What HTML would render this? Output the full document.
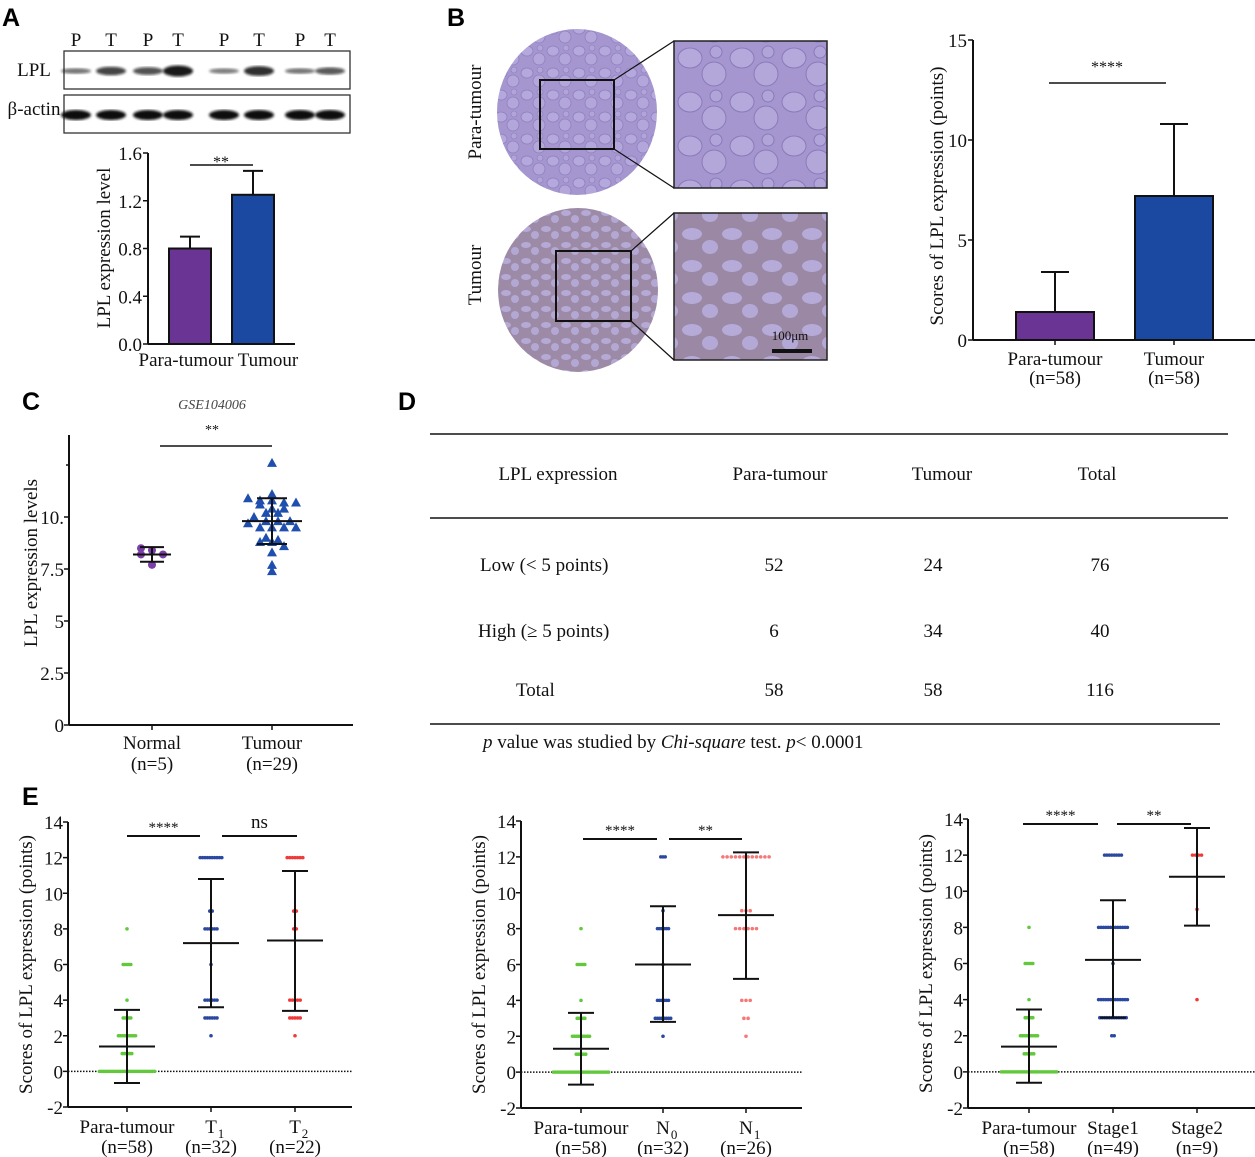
<!DOCTYPE html>
<html><head><meta charset="utf-8"><style>
html,body{margin:0;padding:0;background:#fff;}
svg{display:block;font-family:"Liberation Serif",serif;}
.lab{font-family:"Liberation Sans",sans-serif;font-weight:bold;font-size:25px;}
</style></head><body>
<svg id="fig" width="1255" height="1157" viewBox="0 0 1255 1157" xmlns="http://www.w3.org/2000/svg">
<defs>
<pattern id="paraPat" width="26" height="22" patternUnits="userSpaceOnUse">
<rect width="26" height="22" fill="#a596cf"/>
<ellipse cx="7" cy="7" rx="6" ry="5" fill="#b4a8dc" stroke="#8f7fbf" stroke-width="0.8"/>
<ellipse cx="19" cy="15" rx="6" ry="6" fill="#b2a6da" stroke="#8f7fbf" stroke-width="0.8"/>
<ellipse cx="20" cy="4" rx="3" ry="3" fill="#b0a4d8" stroke="#8f7fbf" stroke-width="0.6"/>
</pattern>
<pattern id="tumPat" width="20" height="16" patternUnits="userSpaceOnUse">
<rect width="20" height="16" fill="#9c8aa6"/>
<ellipse cx="6" cy="5" rx="5" ry="3" fill="#b5a9d6"/>
<ellipse cx="15" cy="11" rx="4" ry="4" fill="#b3a7d4"/>
</pattern>
<pattern id="paraPatL" width="52" height="44" patternUnits="userSpaceOnUse">
<rect width="52" height="44" fill="#a596cf"/>
<ellipse cx="14" cy="14" rx="12" ry="10" fill="#b5a9dc" stroke="#8a7abb" stroke-width="1"/>
<ellipse cx="38" cy="30" rx="12" ry="12" fill="#b3a7da" stroke="#8a7abb" stroke-width="1"/>
<ellipse cx="40" cy="8" rx="6" ry="6" fill="#b0a4d8" stroke="#8a7abb" stroke-width="1"/>
</pattern>
<pattern id="tumPatL" width="40" height="32" patternUnits="userSpaceOnUse">
<rect width="40" height="32" fill="#9a88a4"/>
<ellipse cx="12" cy="10" rx="10" ry="6" fill="#b6aad8"/>
<ellipse cx="30" cy="23" rx="8" ry="7" fill="#b4a8d6"/>
</pattern>
<filter id="blur"><feGaussianBlur stdDeviation="1.2"/></filter>
</defs>
<g id="root"></g>
</svg>
<script>
// ---------- DATA ----------
const aCats = ["Para-tumour", "Tumour"];
const aMeans = [0.8, 1.25];
const aErr = [0.9, 1.45];
const aTicks = [0.0, 0.4, 0.8, 1.2, 1.6];
const blotLanes = ["P","T","P","T","P","T","P","T"];
const lplBand = [0.35, 0.7, 0.6, 1.0, 0.3, 0.85, 0.35, 0.55];
const bCats = ["Para-tumour", "Tumour"];
const bNs = ["(n=58)", "(n=58)"];
const bMeans = [1.4, 7.2];
const bErr = [3.4, 10.8];
const bTicks = [0, 5, 10, 15];
const cCats = ["Normal", "Tumour"];
const cNs = ["(n=5)", "(n=29)"];
const cNormal = [8.5, 8.4, 8.2, 8.2, 7.7];
const cTumour = [12.6, 11.1, 10.9, 10.8, 10.8, 10.7, 10.7, 10.6, 10.4, 10.4, 10.2, 10.2, 10.0, 9.8, 9.8, 9.8, 9.7, 9.5, 9.5, 9.5, 9.5, 9.0, 8.9, 8.8, 8.8, 8.6, 8.3, 7.7, 7.4];
const cStats = [[8.2, 8.55, 7.85], [9.8, 10.9, 8.7]];
const cTicks = [0, 2.5, 5, 7.5, 10];
const cTickLabels = ["0", "2.5", "5", "7.5", "10."];
const eTicks = [-2, 0, 2, 4, 6, 8, 10, 12, 14];
const paraScores = [0, 1, 2, 3, 4, 6, 8];
const paraCounts = [30, 6, 10, 5, 1, 5, 1];
const t1Scores = [2, 3, 4, 6, 8, 9, 12];
const t1Counts = [1, 6, 6, 1, 6, 2, 10];
const t2Scores = [2, 3, 4, 8, 9, 12];
const t2Counts = [1, 5, 5, 2, 2, 7];
const n0Scores = [2, 3, 4, 6, 8, 9, 12];
const n0Counts = [1, 8, 6, 1, 6, 1, 3];
const n1Scores = [2, 3, 4, 8, 9, 12];
const n1Counts = [1, 2, 3, 6, 3, 12];
const s1Scores = [2, 3, 4, 6, 8, 12];
const s1Counts = [2, 12, 13, 1, 13, 8];
const s2Scores = [4, 9, 12];
const s2Counts = [1, 1, 4];
const e1Stats = [[1.4, 3.45, -0.65], [7.2, 10.8, 3.6], [7.35, 11.25, 3.4]];
const e2Stats = [[1.3, 3.3, -0.7], [6.0, 9.25, 2.8], [8.75, 12.25, 5.2]];
const e3Stats = [[1.4, 3.45, -0.6], [6.2, 9.5, 3.0], [10.8, 13.5, 8.1]];

// ---------- HELPERS ----------
const NS = "http://www.w3.org/2000/svg";
const root = document.getElementById("root");
function mk(tag, attrs, parent) {
  const el = document.createElementNS(NS, tag);
  for (const k in attrs) el.setAttribute(k, attrs[k]);
  (parent || root).appendChild(el);
  return el;
}
function txt(s, x, y, size, anchor, parent, extra) {
  const t = mk("text", Object.assign({x: x, y: y, "font-size": size, "text-anchor": anchor || "middle", fill: "#111"}, extra || {}), parent);
  t.textContent = s;
  return t;
}
function line(x1, y1, x2, y2, w, parent, dash) {
  const a = {x1: x1, y1: y1, x2: x2, y2: y2, stroke: "#111", "stroke-width": w || 2};
  if (dash) a["stroke-dasharray"] = dash;
  return mk("line", a, parent);
}

[["A",2,26],["B",447,26],["C",22,410],["D",398,410],["E",22,805]].forEach(p => {
  const t = mk("text", {x: p[1], y: p[2], class: "lab", fill: "#000"});
  t.textContent = p[0];
  
  
});

// ---------- PANEL A ----------
const gA = mk("g", {});


const laneX = [76, 111, 148, 178, 224, 259, 300, 330];
blotLanes.forEach((l, i) => {
  const t = txt(l, laneX[i], 46, 19, "middle", gA);
  
  
});
const blot1 = mk("rect", {x: 64, y: 51, width: 286, height: 38, fill: "#fff", stroke: "#333", "stroke-width": 1.3}, gA);


const blot2 = mk("rect", {x: 64, y: 95, width: 286, height: 38, fill: "#fff", stroke: "#333", "stroke-width": 1.3}, gA);


txt("LPL", 34, 76, 19, "middle", gA);
txt("β-actin", 34, 115, 19, "middle", gA);
lplBand.forEach((v, i) => {
  const b = mk("ellipse", {cx: laneX[i], cy: 71, rx: 15, ry: 1.5 + v * 4, fill: "#111", opacity: 0.35 + v * 0.6, filter: "url(#blur)"}, gA);
  
  
  const c = mk("ellipse", {cx: laneX[i], cy: 115, rx: 15, ry: 5, fill: "#111", filter: "url(#blur)"}, gA);
  
  
});
(function() {
  const x0 = 148, y0 = 344, yT = 153, xR = 295;
  const ys = v => y0 - v / 1.6 * (y0 - yT);
  line(x0, yT, x0, y0, 2, gA);
  line(x0, y0, xR, y0, 2, gA);
  aTicks.forEach(t => {
    line(x0 - 5, ys(t), x0, ys(t), 1.5, gA);
    const tl = txt(t.toFixed(1), x0 - 6, ys(t) + 7, 19, "end", gA);
    
    
  });
  const cx = [190, 253], colors = ["#6a3494", "#1b48a0"];
  aMeans.forEach((m, i) => {
    const r = mk("rect", {x: cx[i] - 21, y: ys(m), width: 42, height: y0 - ys(m), fill: colors[i], stroke: "#111", "stroke-width": 2}, gA);
    
    
    line(cx[i], ys(m), cx[i], ys(aErr[i]), 2, gA);
    line(cx[i] - 10, ys(aErr[i]), cx[i] + 10, ys(aErr[i]), 2, gA);
  });
  txt("Para-tumour", 186, 366, 19, "middle", gA);
  txt("Tumour", 268, 366, 19, "middle", gA);
  line(190, 165, 253, 165, 1.5, gA);
  txt("**", 221, 167, 16, "middle", gA);
  const yl = txt("LPL expression level", 0, 0, 19, "middle", gA, {transform: "translate(110,248) rotate(-90)"});
  
  
})();

// ---------- PANEL B ----------
const gB = mk("g", {});


const circ1 = mk("ellipse", {cx: 577, cy: 112, rx: 80, ry: 83, fill: "url(#paraPat)"}, gB);


const circ2 = mk("ellipse", {cx: 578, cy: 290, rx: 80, ry: 82, fill: "url(#tumPat)"}, gB);


const in1 = mk("rect", {x: 674, y: 41, width: 153, height: 147, fill: "url(#paraPatL)", stroke: "#222", "stroke-width": 1.5}, gB);


const in2 = mk("rect", {x: 674, y: 213, width: 153, height: 147, fill: "url(#tumPatL)", stroke: "#222", "stroke-width": 1.5}, gB);


mk("rect", {x: 540, y: 80, width: 74, height: 69, fill: "none", stroke: "#111", "stroke-width": 2}, gB);
mk("rect", {x: 556, y: 251, width: 75, height: 70, fill: "none", stroke: "#111", "stroke-width": 2}, gB);
line(614, 80, 674, 41, 1.2, gB); line(614, 149, 674, 188, 1.2, gB);
line(631, 251, 674, 213, 1.2, gB); line(631, 321, 674, 360, 1.2, gB);
txt("100μm", 790, 340, 13, "middle", gB);
line(772, 351, 812, 351, 4, gB);
txt("Para-tumour", 0, 0, 19, "middle", gB, {transform: "translate(481,112) rotate(-90)"});
txt("Tumour", 0, 0, 19, "middle", gB, {transform: "translate(481,275) rotate(-90)"});
(function() {
  const x0 = 973, y0 = 340, yT = 40, xR = 1255;
  const ys = v => y0 - v / 15 * (y0 - yT);
  line(x0, yT, x0, y0, 2, gB);
  line(x0, y0, xR, y0, 2, gB);
  bTicks.forEach(t => {
    line(x0 - 5, ys(t), x0, ys(t), 1.5, gB);
    const tl = txt(String(t), x0 - 6, ys(t) + 7, 19, "end", gB);
    
    
  });
  const cx = [1055, 1174], colors = ["#6a3494", "#1b48a0"];
  bMeans.forEach((m, i) => {
    const r = mk("rect", {x: cx[i] - 39, y: ys(m), width: 78, height: y0 - ys(m), fill: colors[i], stroke: "#111", "stroke-width": 2}, gB);
    
    
    line(cx[i], ys(m), cx[i], ys(bErr[i]), 2, gB);
    line(cx[i] - 14, ys(bErr[i]), cx[i] + 14, ys(bErr[i]), 2, gB);
    line(cx[i], y0, cx[i], y0 + 5, 1.5, gB);
    txt(bCats[i], cx[i], 365, 19, "middle", gB);
    txt(bNs[i], cx[i], 384, 19, "middle", gB);
  });
  line(1049, 83, 1166, 83, 1.5, gB);
  txt("****", 1107, 72, 16, "middle", gB);
  const yl = txt("Scores of  LPL expression (points)", 0, 0, 19, "middle", gB, {transform: "translate(943,196) rotate(-90)"});
  
  
})();

// ---------- PANEL C ----------
const gC = mk("g", {});


(function() {
  const x0 = 69, y0 = 725, xR = 353, ppu = 20.8;
  const ys = v => y0 - v * ppu;
  line(x0, 435, x0, y0, 2, gC);
  line(x0, y0, xR, y0, 2, gC);
  cTicks.forEach((t, i) => {
    line(x0 - 5, ys(t), x0, ys(t), 1.5, gC);
    const tl = txt(cTickLabels[i], x0 - 5, ys(t) + 7, 19, "end", gC);
    
    
  });
  line(x0 - 3, ys(12.5), x0, ys(12.5), 1.5, gC);
  const cx = [152, 272];
  cx.forEach((x, i) => {
    line(x, y0, x, y0 + 5, 1.5, gC);
    txt(cCats[i], x, 749, 19, "middle", gC);
    txt(cNs[i], x, 770, 19, "middle", gC);
  });
  const nOff = [-11, 0, -11, 11, 0];
  cNormal.forEach((v, i) => {
    const d = mk("circle", {cx: cx[0] + nOff[i], cy: ys(v), r: 4, fill: "#7b3fa8"}, gC);
    
    
  });
  const bins = {};
  cTumour.forEach(v => {
    const b = Math.round(v / 0.3);
    bins[b] = (bins[b] || 0) + 1;
  });
  const seen = {};
  cTumour.forEach(v => {
    const b = Math.round(v / 0.3);
    const n = bins[b]; const k = seen[b] || 0; seen[b] = k + 1;
    const x = cx[1] + (k - (n - 1) / 2) * 12;
    const y = ys(v);
    const tr = mk("polygon", {points: `${x},${y - 5} ${x - 5},${y + 4} ${x + 5},${y + 4}`, fill: "#1f4fae"}, gC);
    
    
  });
  const half = [[19, 12], [30, 15]];
  cStats.forEach((s, i) => {
    line(cx[i] - half[i][0], ys(s[0]), cx[i] + half[i][0], ys(s[0]), 2, gC);
    line(cx[i], ys(s[1]), cx[i], ys(s[2]), 2, gC);
    line(cx[i] - half[i][1], ys(s[1]), cx[i] + half[i][1], ys(s[1]), 2, gC);
    line(cx[i] - half[i][1], ys(s[2]), cx[i] + half[i][1], ys(s[2]), 2, gC);
  });
  line(160, 446, 272, 446, 1.5, gC);
  txt("**", 212, 434, 14, "middle", gC);
  const title = txt("GSE104006", 212, 409, 14, "middle", gC, {"font-style": "italic", fill: "#444"});
  
  
  const yl = txt("LPL expression levels", 0, 0, 19, "middle", gC, {transform: "translate(37,563) rotate(-90)"});
  
  
})();

// ---------- PANEL D ----------
const gD = mk("g", {});


line(430, 434, 1228, 434, 1.5, gD);
line(430, 518, 1228, 518, 1.5, gD);
line(430, 724, 1220, 724, 1.5, gD);
[["LPL expression", 558], ["Para-tumour", 780], ["Tumour", 942], ["Total", 1097]].forEach(h => {
  const t = txt(h[0], h[1], 480, 19, "middle", gD);
  
  
});
const dRows = [["Low (< 5 points)", 480, 571, ["52", "24", "76"]], ["High (≥ 5 points)", 478, 637, ["6", "34", "40"]], ["Total", 516, 696, ["58", "58", "116"]]];
const dColX = [774, 933, 1100];
dRows.forEach(r => {
  const t = txt(r[0], r[1], r[2], 19, "start", gD);
  
  
  r[3].forEach((v, j) => {
    const c = txt(v, dColX[j], r[2], 19, "middle", gD);
    
    
  });
});
(function() {
  const t = mk("text", {x: 483, y: 748, "font-size": 19, fill: "#111"}, gD);
  t.innerHTML = '<tspan font-style="italic">p</tspan> value was studied by <tspan font-style="italic">Chi-square</tspan> test. <tspan font-style="italic">p</tspan>&lt; 0.0001';
  
  
})();

// ---------- PANEL E ----------
function dotPlot(cfg) {
  const g = mk("g", {});
  
  
  const ys = v => cfg.y0 - (v + 2) * (cfg.y0 - cfg.y14) / 16;
  line(cfg.x0, cfg.y14, cfg.x0, cfg.y0, 2, g);
  line(cfg.x0, cfg.y0, cfg.xR, cfg.y0, 2, g);
  line(cfg.x0, ys(0), cfg.xR, ys(0), 1.5, g, "1.5,1.5");
  eTicks.forEach(t => {
    line(cfg.x0 - 5, ys(t), cfg.x0, ys(t), 1.5, g);
    const tl = txt(String(t), cfg.x0 - 5, ys(t) + 7, 19, "end", g);
    
    
  });
  cfg.groups.forEach((gr, i) => {
    const cx = cfg.cx[i];
    line(cx, cfg.y0, cx, cfg.y0 + 5, 1.5, g);
    gr.scores.forEach((s, j) => {
      const n = gr.counts[j];
      for (let k = 0; k < n; k++) {
        const x = cx + (k - (n - 1) / 2) * gr.sp;
        const d = mk("circle", {cx: x, cy: ys(s), r: 1.8, fill: gr.color}, g);
        
        
      }
    });
    const st = cfg.stats[i];
    line(cx - 28, ys(st[0]), cx + 28, ys(st[0]), 2, g);
    line(cx, ys(st[1]), cx, ys(st[2]), 2, g);
    line(cx - 13, ys(st[1]), cx + 13, ys(st[1]), 2, g);
    line(cx - 13, ys(st[2]), cx + 13, ys(st[2]), 2, g);
    const l1 = txt(cfg.labels[i], cx, cfg.y0 + 26, 19, "middle", g);
    
    
    if (cfg.subs && cfg.subs[i]) {
      const bb = l1.getComputedTextLength ? l1.getComputedTextLength() : 10;
      mk("text", {x: cx + bb / 2 + 1, y: cfg.y0 + 31, "font-size": 13, fill: "#111"}, g).textContent = cfg.subs[i];
    }
    txt(cfg.ns[i], cx, cfg.y0 + 46, 19, "middle", g);
  });
  cfg.sig.forEach(s => {
    line(s[0], s[2], s[1], s[2], 2, g);
    txt(s[3], (s[0] + s[1]) / 2, s[2] - (s[3] === "ns" ? 8 : 4), s[3] === "ns" ? 19 : 15, "middle", g);
  });
  const yl = txt("Scores of LPL expression (points)", 0, 0, 19, "middle", g, {transform: `translate(${cfg.x0 - 36},${(cfg.y14 + cfg.y0) / 2}) rotate(-90)`});
  
  
}
const G = "#62c83c", B = "#2a48a0", R = "#f03a3a";
dotPlot({name: "panel-e-t-stage", x0: 68, xR: 352, y14: 822, y0: 1107, cx: [127, 211, 295],
  groups: [{scores: paraScores, counts: paraCounts, color: G, sp: 1.9}, {scores: t1Scores, counts: t1Counts, color: B, sp: 2.4}, {scores: t2Scores, counts: t2Counts, color: R, sp: 2.6}],
  stats: e1Stats, labels: ["Para-tumour", "T", "T"], subs: [null, "1", "2"], ns: ["(n=58)", "(n=32)", "(n=22)"],
  sig: [[127, 200, 836, "****"], [222, 297, 836, "ns"]]});
dotPlot({name: "panel-e-n-stage", x0: 521, xR: 802, y14: 821, y0: 1108, cx: [581, 663, 746],
  groups: [{scores: paraScores, counts: paraCounts, color: G, sp: 1.9}, {scores: n0Scores, counts: n0Counts, color: B, sp: 2.2}, {scores: n1Scores, counts: n1Counts, color: "#f47878", sp: 4.2}],
  stats: e2Stats, labels: ["Para-tumour", "N", "N"], subs: [null, "0", "1"], ns: ["(n=58)", "(n=32)", "(n=26)"],
  sig: [[583, 657, 839, "****"], [669, 742, 839, "**"]]});
dotPlot({name: "panel-e-clinical-stage", x0: 968, xR: 1255, y14: 819, y0: 1108, cx: [1029, 1113, 1197],
  groups: [{scores: paraScores, counts: paraCounts, color: G, sp: 1.9}, {scores: s1Scores, counts: s1Counts, color: B, sp: 2.4}, {scores: s2Scores, counts: s2Counts, color: R, sp: 3}],
  stats: e3Stats, labels: ["Para-tumour", "Stage1", "Stage2"], subs: null, ns: ["(n=58)", "(n=49)", "(n=9)"],
  sig: [[1023, 1098, 824, "****"], [1117, 1191, 824, "**"]]});
</script>
</body></html>
